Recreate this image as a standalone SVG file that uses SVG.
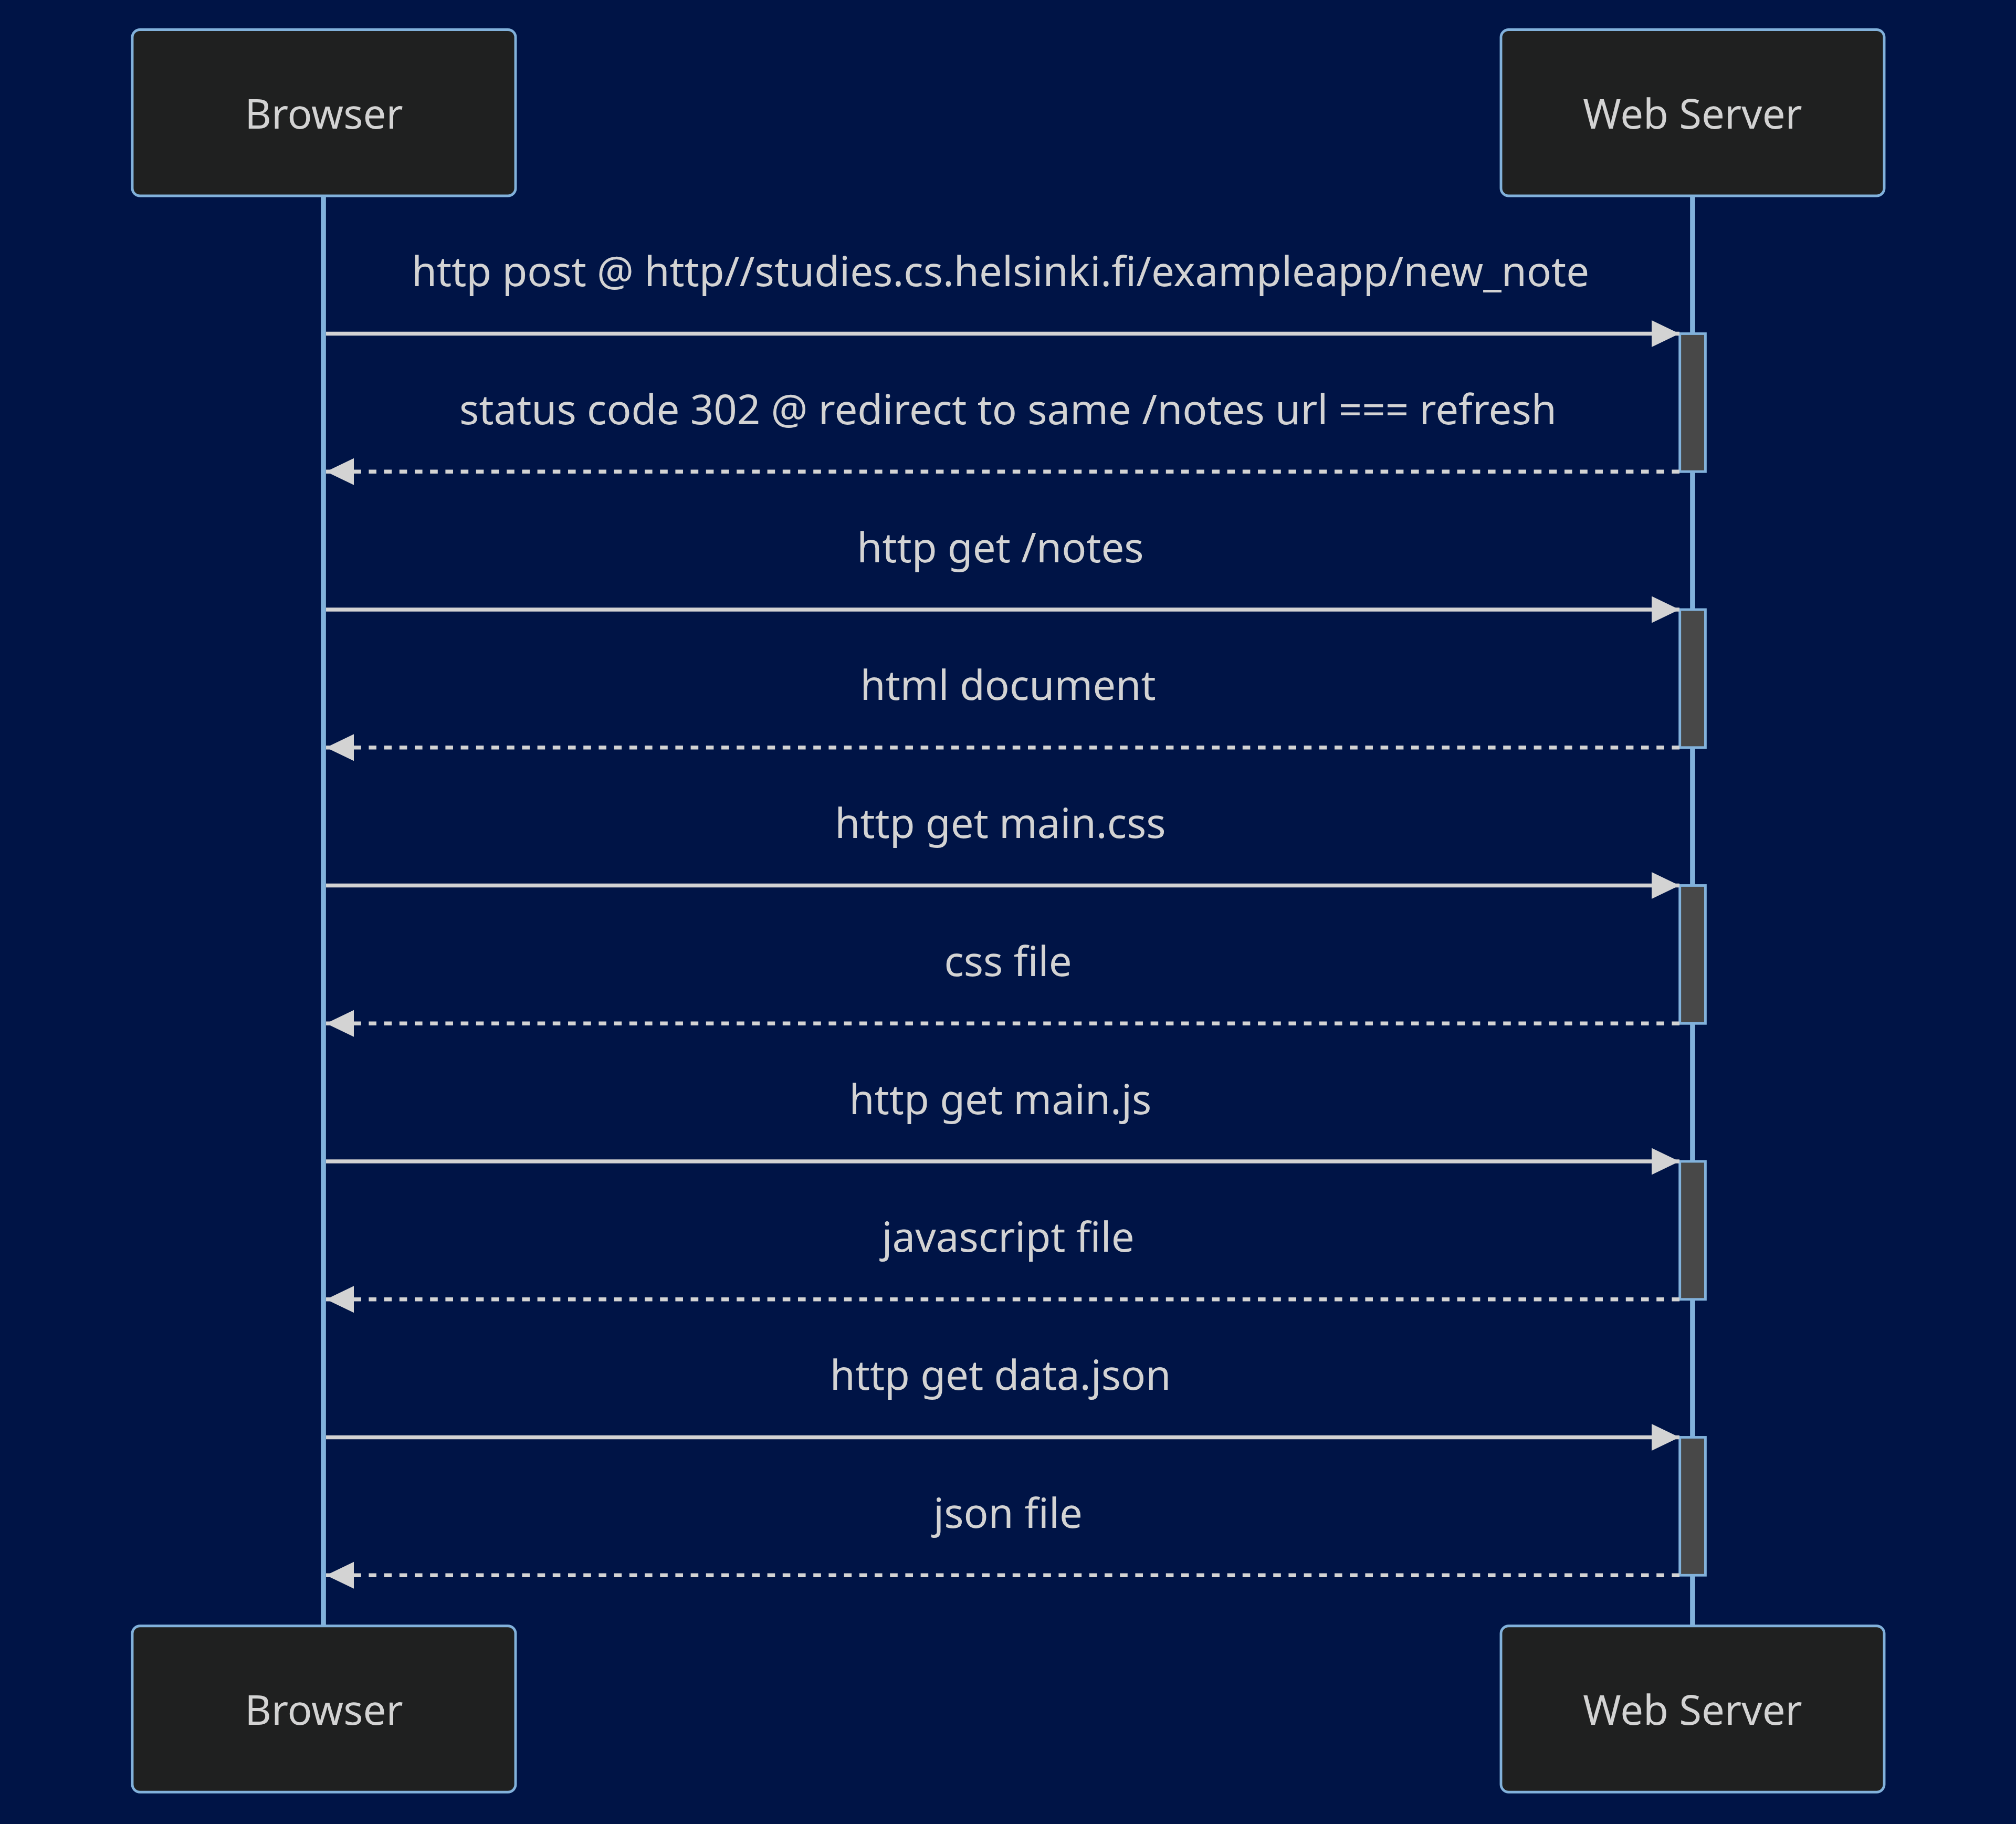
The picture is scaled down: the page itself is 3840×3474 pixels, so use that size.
<svg xmlns="http://www.w3.org/2000/svg" width="3840" height="3474" viewBox="0 0 3840 3474">
<style>
.bg{fill:#001446}
.actor{fill:#1f2020;stroke:#81B1DB;stroke-width:4.87}
.atext{font-family:"Noto Sans","Open Sans",sans-serif;font-size:77.9px;fill:#d3d3d3;text-anchor:middle}
.life{stroke:#81B1DB;stroke-width:9.7}
.act{fill:#484848;stroke:#81B1DB;stroke-width:4.87}
.msg{stroke:#d3d3d3;stroke-width:7.3;fill:none}
.dash{stroke-dasharray:14.6 14.6}
.mtext{font-family:"Noto Sans","Open Sans",sans-serif;font-size:77.9px;fill:#d3d3d3;text-anchor:middle}
</style>
<defs>
<marker id="ah" markerUnits="userSpaceOnUse" markerWidth="54" markerHeight="52" refX="53" refY="25.5" orient="auto">
<path d="M0,0 L53,25.5 L0,51 z" fill="#d3d3d3"/>
</marker>
</defs>
<rect class="bg" x="0" y="0" width="3840" height="3474"/>
<g id="lifelines">
<line class="life" x1="616" y1="373" x2="616" y2="3097"/>
<line class="life" x1="3224" y1="373" x2="3224" y2="3097"/>
</g>
<g id="browser-top">
<rect class="actor" x="252" y="56.5" width="730" height="316.5" rx="14.6" ry="14.6"/>
<text class="atext" x="617" y="244.6">Browser</text>
</g>
<g id="server-top">
<rect class="actor" x="2859" y="56.5" width="730" height="316.5" rx="14.6" ry="14.6"/>
<text class="atext" x="3224" y="244.6">Web Server</text>
</g>
<g id="browser-bottom">
<rect class="actor" x="252" y="3096.7" width="730" height="316.5" rx="14.6" ry="14.6"/>
<text class="atext" x="617" y="3284.8">Browser</text>
</g>
<g id="server-bottom">
<rect class="actor" x="2859" y="3096.7" width="730" height="316.5" rx="14.6" ry="14.6"/>
<text class="atext" x="3224" y="3284.8">Web Server</text>
</g>
<g id="activations">
<rect class="act" x="3199.7" y="635.5" width="48.7" height="262.75"/>
<rect class="act" x="3199.7" y="1161" width="48.7" height="262.75"/>
<rect class="act" x="3199.7" y="1686.5" width="48.7" height="262.75"/>
<rect class="act" x="3199.7" y="2212" width="48.7" height="262.75"/>
<rect class="act" x="3199.7" y="2737.5" width="48.7" height="262.75"/>
</g>
<g id="connectors">
<line class="msg" x1="621" y1="635.5" x2="3199" y2="635.5" marker-end="url(#ah)"/>
<line class="msg dash" x1="3199" y1="898.25" x2="621" y2="898.25" marker-end="url(#ah)"/>
<line class="msg" x1="621" y1="1161" x2="3199" y2="1161" marker-end="url(#ah)"/>
<line class="msg dash" x1="3199" y1="1423.75" x2="621" y2="1423.75" marker-end="url(#ah)"/>
<line class="msg" x1="621" y1="1686.5" x2="3199" y2="1686.5" marker-end="url(#ah)"/>
<line class="msg dash" x1="3199" y1="1949.25" x2="621" y2="1949.25" marker-end="url(#ah)"/>
<line class="msg" x1="621" y1="2212" x2="3199" y2="2212" marker-end="url(#ah)"/>
<line class="msg dash" x1="3199" y1="2474.75" x2="621" y2="2474.75" marker-end="url(#ah)"/>
<line class="msg" x1="621" y1="2737.5" x2="3199" y2="2737.5" marker-end="url(#ah)"/>
<line class="msg dash" x1="3199" y1="3000.25" x2="621" y2="3000.25" marker-end="url(#ah)"/>
</g>
<g id="labels">
<text class="mtext" x="1905.5" y="545">http post @ http//studies.cs.helsinki.fi/exampleapp/new_note</text>
<text class="mtext" x="1920" y="807.75">status code 302 @ redirect to same /notes url === refresh</text>
<text class="mtext" x="1905.5" y="1070.5">http get /notes</text>
<text class="mtext" x="1920" y="1333.25">html document</text>
<text class="mtext" x="1905.5" y="1596">http get main.css</text>
<text class="mtext" x="1920" y="1858.75">css file</text>
<text class="mtext" x="1905.5" y="2121.5">http get main.js</text>
<text class="mtext" x="1920" y="2384.25">javascript file</text>
<text class="mtext" x="1905.5" y="2647">http get data.json</text>
<text class="mtext" x="1920" y="2909.75">json file</text>
</g>
</svg>
